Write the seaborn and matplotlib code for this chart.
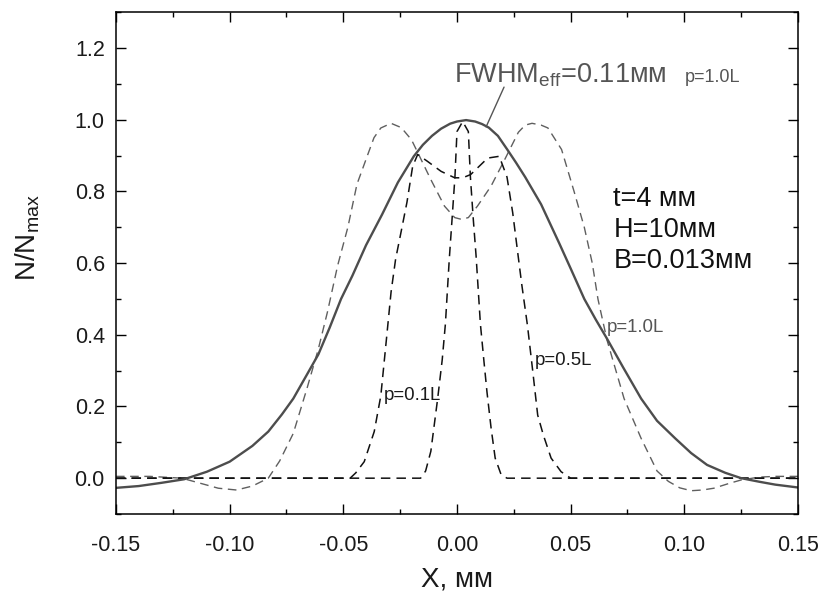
import numpy as np
import pandas as pd
import seaborn as sns
import matplotlib.pyplot as plt
from matplotlib.ticker import MultipleLocator, FormatStrFormatter

# effective profile (solid), FWHM = 0.11 mm
x_eff = [-0.150, -0.140, -0.130, -0.120, -0.110, -0.100, -0.090, -0.083, -0.077, -0.072,
         -0.066, -0.061, -0.056, -0.051, -0.046, -0.040, -0.033, -0.026, -0.019, -0.015,
         -0.011, -0.007, -0.003, 0.000, 0.004, 0.008, 0.011, 0.014, 0.018, 0.022,
         0.026, 0.030, 0.037, 0.045, 0.050, 0.056, 0.061, 0.066, 0.073, 0.081,
         0.088, 0.096, 0.103, 0.110, 0.118, 0.125, 0.133, 0.140, 0.150]
y_eff = [-0.027, -0.022, -0.013, -0.003, 0.018, 0.046, 0.090, 0.130, 0.178, 0.222,
         0.289, 0.345, 0.420, 0.500, 0.565, 0.650, 0.735, 0.825, 0.898, 0.930,
         0.955, 0.975, 0.989, 0.995, 0.999, 0.995, 0.988, 0.978, 0.955, 0.918,
         0.880, 0.840, 0.764, 0.655, 0.585, 0.500, 0.443, 0.389, 0.310, 0.222,
         0.160, 0.111, 0.070, 0.037, 0.015, 0.000, -0.010, -0.018, -0.026]

# p = 1.0L
x_p10 = [-0.150, -0.135, -0.121, -0.113, -0.105, -0.097, -0.090, -0.083, -0.078, -0.072,
         -0.066, -0.061, -0.057, -0.0525, -0.048, -0.044, -0.039, -0.0365, -0.0335, -0.029,
         -0.0245, -0.020, -0.017, -0.0115, -0.0055, -0.001, 0.002, 0.005, 0.009, 0.015,
         0.021, 0.027, 0.030, 0.033, 0.037, 0.040, 0.046, 0.0515, 0.056, 0.0595,
         0.062, 0.066, 0.0735, 0.081, 0.088, 0.093, 0.098, 0.103, 0.108, 0.113,
         0.120, 0.125, 0.133, 0.140, 0.150]
y_p10 = [0.005, 0.005, 0.000, -0.014, -0.028, -0.033, -0.022, 0.000, 0.048, 0.125,
         0.250, 0.360, 0.463, 0.593, 0.700, 0.820, 0.907, 0.950, 0.977, 0.990,
         0.978, 0.944, 0.905, 0.833, 0.759, 0.727, 0.722, 0.727, 0.759, 0.815,
         0.889, 0.965, 0.985, 0.990, 0.985, 0.977, 0.917, 0.800, 0.700, 0.600,
         0.500, 0.385, 0.222, 0.111, 0.020, -0.009, -0.027, -0.035, -0.033, -0.028,
         -0.014, -0.005, 0.003, 0.005, 0.005]

# p = 0.5L
x_p05 = [-0.150, -0.047, -0.0445, -0.0408, -0.0364, -0.0335, -0.031, -0.029, -0.027, -0.0245,
         -0.022, -0.0195, -0.0173, -0.013, -0.007, -0.001, 0.0025, 0.006, 0.0135, 0.0186,
         0.022, 0.0245, 0.0267, 0.0285, 0.031, 0.0333, 0.0355, 0.038, 0.0414, 0.0458,
         0.050, 0.150]
y_p05 = [0.000, 0.000, 0.015, 0.046, 0.130, 0.230, 0.390, 0.519, 0.611, 0.690,
         0.770, 0.870, 0.903, 0.884, 0.856, 0.838, 0.838, 0.847, 0.893, 0.898,
         0.840, 0.741, 0.630, 0.540, 0.426, 0.300, 0.176, 0.120, 0.056, 0.018,
         0.000, 0.000]

# p = 0.1L
x_p01 = [-0.150, -0.016, -0.0138, -0.0115, -0.0085, -0.0065, -0.0051, -0.0034, -0.0022, -0.0009,
         0.000, 0.0025, 0.005, 0.0059, 0.0072, 0.0084, 0.0103, 0.0118, 0.0132, 0.0150,
         0.0168, 0.0194, 0.022, 0.150]
y_p01 = [0.000, 0.000, 0.020, 0.075, 0.222, 0.330, 0.430, 0.610, 0.720, 0.840,
         0.967, 0.995, 0.967, 0.840, 0.720, 0.620, 0.430, 0.330, 0.240, 0.140,
         0.056, 0.010, 0.000, 0.000]

params = ["t=4 мм", "H=10мм", "B=0.013мм"]

sns.set_style("ticks")
plt.rcParams["font.family"] = ["Liberation Sans", "DejaVu Sans"]
plt.rcParams["axes.unicode_minus"] = False
plt.rcParams["mathtext.default"] = "regular"

fig = plt.figure(figsize=(8.26, 5.95), dpi=100)
ax = fig.add_axes([0.1404, 0.1361, 0.8257, 0.8434])

dash = (0, (6.2, 4.0))
sns.lineplot(x=x_p10, y=y_p10, ax=ax, color="#5f5f5f", linewidth=1.0,
             linestyle=dash, estimator=None, sort=False)
sns.lineplot(x=x_p05, y=y_p05, ax=ax, color="#111111", linewidth=1.1,
             linestyle=dash, estimator=None, sort=False)
sns.lineplot(x=x_p01, y=y_p01, ax=ax, color="#111111", linewidth=1.1,
             linestyle=dash, estimator=None, sort=False)
sns.lineplot(x=x_eff, y=y_eff, ax=ax, color="#4d4d4d", linewidth=1.7,
             estimator=None, sort=False)

ax.set_xlim(-0.15, 0.15)
ax.set_ylim(-0.1, 1.3)
ax.xaxis.set_major_locator(MultipleLocator(0.05))
ax.xaxis.set_minor_locator(MultipleLocator(0.025))
ax.yaxis.set_major_locator(MultipleLocator(0.2))
ax.yaxis.set_minor_locator(MultipleLocator(0.1))
ax.xaxis.set_major_formatter(FormatStrFormatter("%.2f"))
ax.yaxis.set_major_formatter(FormatStrFormatter("%.1f"))
ax.set_yticks([0.0, 0.2, 0.4, 0.6, 0.8, 1.0, 1.2])

ax.tick_params(which="both", direction="in", top=True, right=True, width=1.0, color="black")
ax.tick_params(which="major", length=7)
ax.tick_params(which="minor", length=3.6)
ax.tick_params(axis="x", pad=15, labelsize=15.5, labelcolor="#1a1a1a")
ax.tick_params(axis="y", pad=8, labelsize=15.5, labelcolor="#1a1a1a")
for s in ax.spines.values():
    s.set_linewidth(1.1)
    s.set_color("black")

ax.set_xlabel("X, мм", fontsize=20, color="#1a1a1a")
ax.set_ylabel("N/N$_{max}$", fontsize=20, color="#1a1a1a")
ax.xaxis.set_label_coords(0.5, -0.105)
ax.yaxis.set_label_coords(-0.108, 0.55)

# annotations
ax.text(-0.0013, 1.105, "FWHM$_{eff}$=0.11мм", fontsize=19.5, color="#555555",
        ha="left", va="baseline")
ax.text(0.1003, 1.106, "p=1.0L", fontsize=13, color="#555555", ha="left", va="baseline")
ax.annotate("", xy=(0.0128, 0.98), xytext=(0.0207, 1.091),
            arrowprops=dict(arrowstyle="-", color="#555555", lw=1.0, shrinkA=0, shrinkB=0))
ax.text(0.0659, 0.409, "p=1.0L", fontsize=13.4, color="#555555", ha="left", va="baseline")
ax.text(0.0343, 0.316, "p=0.5L", fontsize=13.4, color="#1a1a1a", ha="left", va="baseline")
ax.text(-0.0324, 0.218, "p=0.1L", fontsize=13.4, color="#1a1a1a", ha="left", va="baseline")
for t, yy in zip(params, [0.76, 0.674, 0.586]):
    ax.text(0.0688, yy, t, fontsize=19.5, color="#111111", ha="left", va="baseline")

fig.savefig("out.png", dpi=100)
